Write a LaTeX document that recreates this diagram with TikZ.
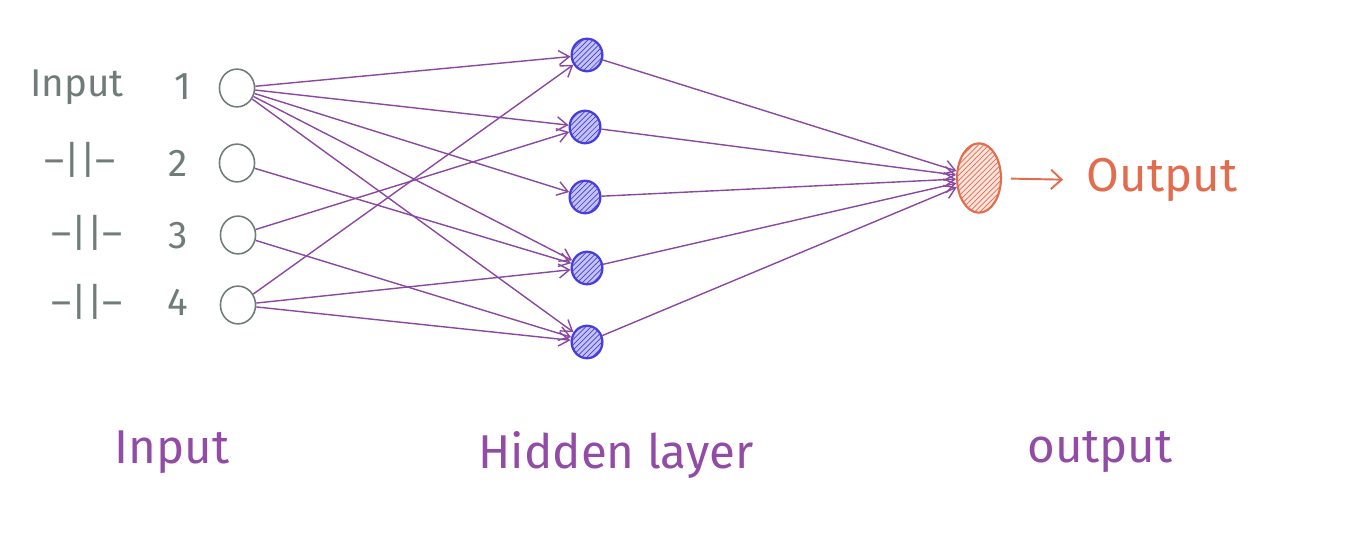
\documentclass[tikz,border=0pt]{standalone}
\usepackage{fontspec}
\setmainfont{Fira Sans}
\usetikzlibrary{arrows.meta,patterns,shapes.geometric}
\definecolor{inGray}{RGB}{112,124,122}
\definecolor{hidBlue}{RGB}{72,62,222}
\definecolor{hidFill}{RGB}{196,196,244}
\definecolor{outRed}{RGB}{226,108,78}
\definecolor{outFill}{RGB}{250,228,220}
\definecolor{linkPurple}{RGB}{138,72,160}
\definecolor{labelPurple}{RGB}{146,76,166}
\begin{document}
\begin{tikzpicture}[x=0.02cm,y=-0.02cm,
    inputnode/.style={ellipse,draw=inGray,line width=0.9pt,minimum width=20pt,minimum height=21.5pt,inner sep=0pt},
    hiddennode/.style={ellipse,draw=hidBlue,line width=1.3pt,minimum width=17.5pt,minimum height=18.5pt,inner sep=0pt,
      preaction={fill=hidFill},pattern=north east lines,pattern color=hidBlue},
    outnode/.style={ellipse,draw=outRed,line width=1.2pt,minimum width=25pt,minimum height=39.5pt,inner sep=0pt,
      preaction={fill=outFill},pattern=north east lines,pattern color=outRed},
    link/.style={draw=linkPurple,line width=0.8pt,-{Straight Barb[length=6pt,width=8pt]}},
    sidetext/.style={text=inGray,font=\fontsize{22}{26}\selectfont},
    layertext/.style={text=labelPurple,font=\fontsize{27}{32}\selectfont}]
  \useasboundingbox (0,0) rectangle (1361,533);
  % Input layer
  \node[inputnode] (i1) at (237,88) {};
  \node[inputnode] (i2) at (237,163) {};
  \node[inputnode] (i3) at (238,235) {};
  \node[inputnode] (i4) at (238,305) {};
  \node[sidetext] (t1) at (77,87) {Input};
  \node[sidetext] (n1) at (183,87) {1};
  \node[sidetext] (t2) at (80,160) {–||–};
  \node[sidetext] (n2) at (178,163) {2};
  \node[sidetext] (t3) at (87,233) {–||–};
  \node[sidetext] (n3) at (178,236) {3};
  \node[sidetext] (t4) at (87,302) {–||–};
  \node[sidetext] (n4) at (178,302) {4};
  % Hidden layer
  \node[hiddennode] (h1) at (587,55) {};
  \node[hiddennode] (h2) at (585,127) {};
  \node[hiddennode] (h3) at (585,197) {};
  \node[hiddennode] (h4) at (587,268) {};
  \node[hiddennode] (h5) at (587,342) {};
  % Output
  \node[outnode] (o) at (979,178) {};
  \node[text=outRed,font=\fontsize{27}{32}\selectfont] (otext) at (1162,180) {Output};
  \draw[outRed,line width=1.1pt,shorten <=5pt,shorten >=10pt,-{Straight Barb[length=6pt,width=11pt]}] (o) -- (otext.west);
  % Connections
  \foreach \a/\b in {1/1,1/2,1/3,1/4,1/5,2/4,3/2,3/5,4/1,4/4,4/5}
    \draw[link] (i\a) -- (h\b);
  \foreach \b in {1,...,5}
    \draw[link] (h\b) -- (o);
  % Layer names
  \node[layertext] (linput) at (172,452) {Input};
  \node[layertext] (lhidden) at (616,455) {Hidden layer};
  \node[layertext] (loutput) at (1100,452) {output};
\end{tikzpicture}
\end{document}
